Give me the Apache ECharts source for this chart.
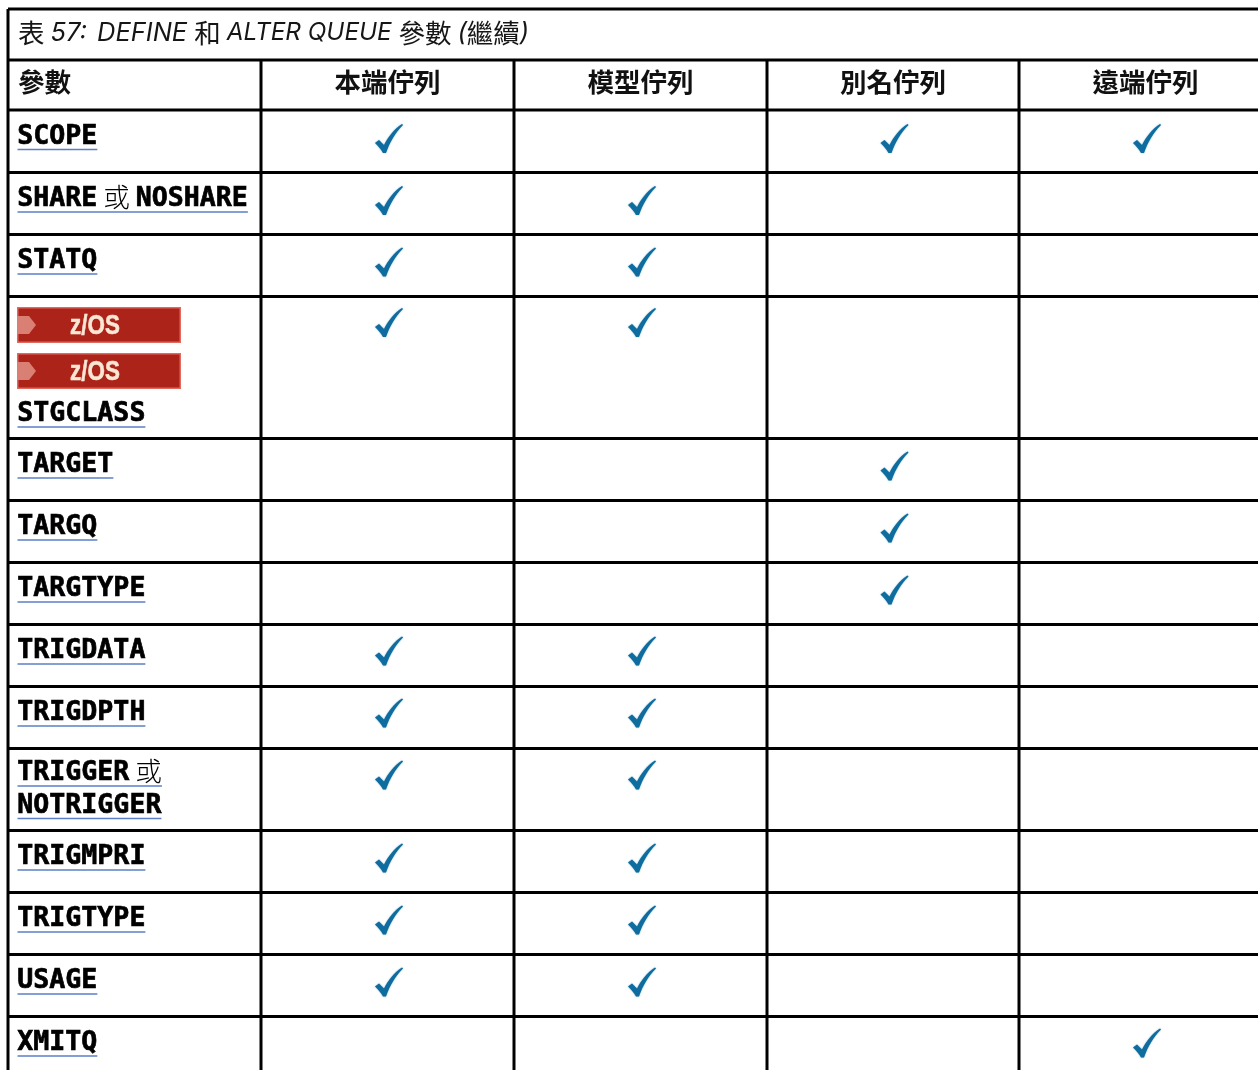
<!DOCTYPE html>
<html>
<head>
<meta charset="utf-8">
<style>html,body{margin:0;padding:0;background:#fff}#c{width:1258px;height:1070px}</style>
<script src="https://cdn.jsdelivr.net/npm/echarts@6/dist/echarts.min.js"></script>
</head>
<body>
<div id="c"></div>
<script>
// ---- content ----
const columnHeads = ['本端佇列', '模型佇列', '別名佇列', '遠端佇列'];
const firstHead = '參數';
const paramRows = [
  [['SCOPE']],
  [['SHARE', ' 或 ', 'NOSHARE']],
  [['STATQ']],
  [['STGCLASS']],
  [['TARGET']],
  [['TARGQ']],
  [['TARGTYPE']],
  [['TRIGDATA']],
  [['TRIGDPTH']],
  [['TRIGGER', ' 或'], ['NOTRIGGER']],
  [['TRIGMPRI']],
  [['TRIGTYPE']],
  [['USAGE']],
  [['XMITQ']]
];
const badgeCounts = [0, 0, 0, 2, 0, 0, 0, 0, 0, 0, 0, 0, 0, 0];
const localQueue  = [1, 1, 1, 1, 0, 0, 0, 1, 1, 1, 1, 1, 1, 0];
const modelQueue  = [0, 1, 1, 1, 0, 0, 0, 1, 1, 1, 1, 1, 1, 0];
const aliasQueue  = [1, 0, 0, 0, 1, 1, 1, 0, 0, 0, 0, 0, 0, 0];
const remoteQueue = [1, 0, 0, 0, 0, 0, 0, 0, 0, 0, 0, 0, 0, 1];

// ---- layout scale (axis units equal table rulings) ----
const columnEdges = [8, 261, 514, 767, 1019, 1272];
const rowEdges = [110, 172.5, 234.5, 296.5, 438.5, 500.5, 562.5, 624.5, 686.5, 748.5, 830.5, 892.5, 954.5, 1016.5, 1090];
const titleEdge = 9, headEdge = 60;
const checkNudge = [1, 0.5, 0, -1.5, 0, 0, 0, -1, -1, -1, 0, 0, 0, -1];
const textNudge  = [0, 0, 0, 0, 0, 0, 0, 0, 0, -2, 0, 0, 0, 0];

const SANS = '"Noto Sans CJK TC"', MONO = '"DejaVu Sans Mono"', ITAL = 'Inter';
const FS = 26.6;
const ctx = document.createElement('canvas').getContext('2d');
function isCjk(s) { return /[\u4e00-\u9fff]/.test(s); }
function segFont(s) { return isCjk(s) ? `300 26.67px ${SANS}` : `bold ${FS}px ${MONO}`; }
function segW(s) { ctx.font = segFont(s); return ctx.measureText(s).width; }

const checkPath = 'path://M0,19 L4,16 L9,21 C13,13 19,5 27,0 L28,1 C20,9 15,18 11,29 L8,29 C6,25 3,22 0,19 Z';
const checkPoints = [];
[localQueue, modelQueue, aliasQueue, remoteQueue].forEach((col, c) => {
  col.forEach((v, r) => {
    if (v) checkPoints.push([(columnEdges[c + 1] + columnEdges[c + 2]) / 2 + 1.5, rowEdges[r] + 27.5 + checkNudge[r]]);
  });
});

// ruling segments
const rulings = [];
[titleEdge, headEdge].concat(rowEdges.slice(0, -1)).forEach(y => rulings.push([columnEdges[0], y, 1272, y]));
rulings.push([columnEdges[0], titleEdge, columnEdges[0], 1090]);
columnEdges.slice(1, 5).forEach(x => rulings.push([x, headEdge, x, 1090]));

function renderRuling(p, api) {
  const a = api.coord([api.value(0), api.value(1)]), b = api.coord([api.value(2), api.value(3)]);
  return { type: 'line', shape: { x1: a[0], y1: a[1], x2: b[0], y2: b[1] }, style: { stroke: '#000', lineWidth: 3 } };
}

function renderHead(p, api) {
  const els = [];
  const t = api.coord([18, 33]);
  els.push({
    type: 'text', x: t[0], y: t[1],
    style: {
      text: '{c|表 }{n|57:}{i| DEFINE }{c|和 }{j|ALTER QUEUE }{c|參數 }{i|(}{c|繼續}{i|)}',
      verticalAlign: 'middle',
      rich: {
        c: { font: `400 26.5px ${SANS}`, fill: '#161616' },
        n: { font: `italic 400 25.5px ${ITAL}`, fill: '#161616', padding: [0, 3, 0, 0] },
        i: { font: `italic 400 25.5px ${ITAL}`, fill: '#161616' },
        j: { font: `italic 400 24.3px ${ITAL}`, fill: '#161616' }
      }
    }
  });
  const f = api.coord([18, 82]);
  els.push({ type: 'text', x: f[0], y: f[1], style: { text: firstHead, font: `bold 26.5px ${SANS}`, fill: '#111', verticalAlign: 'middle' } });
  columnHeads.forEach((h, i) => {
    const q = api.coord([(columnEdges[i + 1] + columnEdges[i + 2]) / 2, 82]);
    els.push({ type: 'text', x: q[0], y: q[1], style: { text: h, font: `bold 26.5px ${SANS}`, fill: '#111', align: 'center', verticalAlign: 'middle' } });
  });
  return { type: 'group', children: els };
}

function renderBadge(x0, y0, api) {
  const a = api.coord([x0, y0]), b = api.coord([x0 + 164, y0 + 36]);
  const w = b[0] - a[0], h = b[1] - a[1];
  return {
    type: 'group', x: a[0], y: a[1], children: [
      { type: 'rect', shape: { x: 0, y: 0, width: w, height: h }, style: { fill: '#e2695e' } },
      { type: 'rect', shape: { x: 1.5, y: 1.5, width: w - 3, height: h - 3 }, style: { fill: '#ac231a' } },
      { type: 'polygon', shape: { points: [[0, 9], [12, 9], [19, 18], [12, 27], [0, 27]] }, style: { fill: '#d97f74' } },
      { type: 'text', x: 78, y: 19, scaleX: 0.8, style: { text: 'z/OS', font: `bold 28px "Liberation Sans"`, fill: '#f9e7d4', stroke: '#f9e7d4', lineWidth: 0.6, align: 'center', verticalAlign: 'middle' } }
    ]
  };
}

function renderParam(p, api) {
  const r = p.dataIndex;
  const top = api.value(0);
  const els = [];
  const nb = badgeCounts[r];
  for (let i = 0; i < nb; i++) els.push(renderBadge(17, top + 10.5 + i * 46, api));
  paramRows[r].forEach((segs, li) => {
    const y = top + nb * 45.5 + 24 + li * 32.5 + textNudge[r];
    let x = 17.3;
    segs.forEach(s => {
      const cjk = isCjk(s);
      const q = api.coord([x, cjk ? y : y + 2.7]);
      els.push({ type: 'text', x: q[0], y: q[1], style: { text: s, font: segFont(s), fill: '#000', stroke: cjk ? null : '#000', lineWidth: cjk ? 0 : 0.7, verticalAlign: 'middle' } });
      x += segW(s);
    });
    const u0 = api.coord([17.5, y + 15.5]), u1 = api.coord([x, y + 15.5]);
    els.push({ type: 'line', shape: { x1: u0[0], y1: u0[1], x2: u1[0], y2: u1[1] }, style: { stroke: '#5b7fc7', lineWidth: 1.5 } });
  });
  return { type: 'group', children: els };
}

const chart = echarts.init(document.getElementById('c'), null, { renderer: 'canvas' });
chart.setOption({
  animation: false,
  backgroundColor: '#fff',
  grid: { left: 0, right: 0, top: 0, bottom: 0 },
  xAxis: { type: 'value', min: 0, max: 1258, show: false },
  yAxis: { type: 'value', min: 0, max: 1070, inverse: true, show: false },
  tooltip: { show: false },
  series: [
    { type: 'custom', renderItem: renderRuling, coordinateSystem: 'cartesian2d', data: rulings, clip: true, silent: true, encode: { x: [0, 2], y: [1, 3] } },
    { type: 'custom', renderItem: renderHead, coordinateSystem: 'cartesian2d', data: [[0, 0]], clip: false, silent: true },
    { type: 'custom', renderItem: renderParam, coordinateSystem: 'cartesian2d', data: rowEdges.slice(0, -1).map(y => [y]), clip: true, silent: true, encode: { y: 0 } },
    {
      type: 'scatter', data: checkPoints, symbol: checkPath, symbolSize: [28, 29], silent: true,
      itemStyle: { color: '#0f6c9f', opacity: 1, shadowBlur: 1.5, shadowColor: 'rgba(15,108,159,0.6)' }
    }
  ]
});
</script>
</body>
</html>
